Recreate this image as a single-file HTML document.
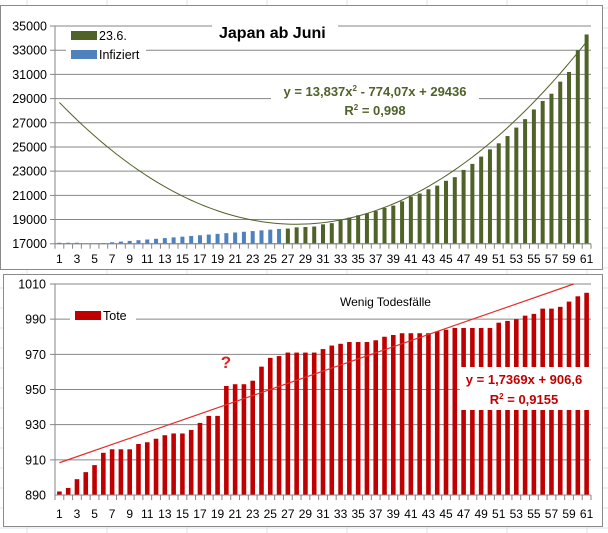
<!DOCTYPE html>
<html><head><meta charset="utf-8"><style>
html,body{margin:0;padding:0;background:#fff;}
svg{display:block;font-family:"Liberation Sans",sans-serif;}
</style></head><body>
<svg id="s" width="608" height="533" xmlns="http://www.w3.org/2000/svg"></svg>
<script>
var s=document.getElementById('s'),h='';
// spreadsheet bg grid
for(var x=0;x<608;x+=80)h+='<line x1="'+(x+27)+'" y1="0" x2="'+(x+27)+'" y2="533" stroke="#dde3ee"/>';
for(var y=8;y<533;y+=20)h+='<line x1="0" y1="'+y+'" x2="608" y2="'+y+'" stroke="#dde3ee"/>';
// frames
h+='<rect x="0.5" y="5.5" width="602" height="264" fill="#fff" stroke="#8a8a8a"/>';
h+='<rect x="3.5" y="274.5" width="599" height="252" fill="#fff" stroke="#8a8a8a"/>';
var X0=55,X1=591,cw=(X1-X0)/61;
function cx(i){return X0+cw*(i-0.5);}
// ---- TOP chart
var tY0=243.7,tY1=26,tmin=17000,tmax=35000;
function ty(v){return tY0-(v-tmin)/(tmax-tmin)*(tY0-tY1);}
for(var v=17000;v<=35000;v+=2000){var yy=ty(v);
h+='<line x1="'+(X0-5)+'" y1="'+yy+'" x2="'+X1+'" y2="'+yy+'" stroke="#868686"/>';
h+='<text x="'+(X0-8)+'" y="'+(yy+4.5)+'" font-size="12.5" text-anchor="end">'+v+'</text>';}
function tr(x){return 13.837*x*x-774.07*x+29436;}
var green={27:18250,28:18350,29:18380,30:18420,31:18600,32:18700,33:18950,34:19150,35:19350,36:19500,37:19700,38:19950,39:20150,40:20500,41:20900,42:21150,43:21500,44:21800,45:22200,46:22500,47:23100,48:23600,49:24200,50:24800,51:25300,52:25900,53:26600,54:27300,55:28100,56:28800,57:29400,58:30400,59:31200,60:33000,61:34300};
for(var i=1;i<=61;i++){var v,c;
 if(i<27){v=i<=3?17080:(i<6?17000:17000+(i-5)*58);c='#4F81BD';}else{v=green[i];c='#4F6228';}
 if(v>tmin)h+='<rect x="'+(cx(i)-2)+'" y="'+ty(v)+'" width="4" height="'+(tY0-ty(v))+'" fill="'+c+'"/>';}
var p='';for(var t=1;t<=61;t+=0.5){p+=(t==1?'M':'L')+cx(t)+' '+ty(tr(t));}
h+='<path d="'+p+'" fill="none" stroke="#4F6228" stroke-width="1"/>';
h+='<line x1="'+X0+'" y1="'+tY1+'" x2="'+X0+'" y2="'+tY0+'" stroke="#868686"/>';
h+='<line x1="'+X0+'" y1="'+tY0+'" x2="'+X1+'" y2="'+tY0+'" stroke="#868686"/>';
for(var i=0;i<=61;i++)h+='<line x1="'+(X0+cw*i)+'" y1="'+tY0+'" x2="'+(X0+cw*i)+'" y2="'+(tY0+5)+'" stroke="#868686"/>';
for(var i=1;i<=61;i+=2)h+='<text x="'+cx(i)+'" y="263" font-size="12" text-anchor="middle">'+i+'</text>';
// legend, title, eq
h+='<rect x="66" y="29" width="80" height="35" fill="#fff"/>';
h+='<rect x="71" y="31" width="26" height="9" fill="#4F6228"/><text x="99" y="40" font-size="12.5">23.6.</text>';
h+='<rect x="71" y="50" width="26" height="9" fill="#4F81BD"/><text x="99" y="59" font-size="12.5">Infiziert</text>';
h+='<rect x="212" y="20" width="126" height="26" fill="#fff"/>';
h+='<text x="219" y="38" font-size="16" font-weight="bold">Japan ab Juni</text>';
h+='<rect x="271" y="80" width="208" height="40" fill="#fff"/>';
h+='<text x="375" y="96" font-size="13" font-weight="bold" fill="#4F6228" text-anchor="middle">y = 13,837x<tspan font-size="8" dy="-5">2</tspan><tspan dy="5"> - 774,07x + 29436</tspan></text>';
h+='<text x="375" y="115" font-size="13" font-weight="bold" fill="#4F6228" text-anchor="middle">R<tspan font-size="8" dy="-5">2</tspan><tspan dy="5"> = 0,998</tspan></text>';
// ---- BOTTOM chart
var bY0=495,bY1=284,bmin=890,bmax=1010;
function by(v){return bY0-(v-bmin)/(bmax-bmin)*(bY0-bY1);}
var d=[892,894,899,903,907,914,916,916,916,919,920,922,924,925,925,927,931,935,935,952,953,953,955,963,968,969,971,971,971,971,973,975,976,977,977,977,978,980,981,982,982,982,982,983,984,985,985,985,985,985,988,989,990,992,993,996,996,997,1000,1003,1005];
for(var v=890;v<=1010;v+=20){var yy=by(v);
 if(v>890)h+='<line x1="'+(X0-5)+'" y1="'+yy+'" x2="'+X1+'" y2="'+yy+'" stroke="#868686"/>';
 h+='<text x="'+(X0-9)+'" y="'+(yy+4.5)+'" font-size="12.5" text-anchor="end">'+v+'</text>';}
for(var i=1;i<=61;i++)h+='<rect x="'+(cx(i)-2.3)+'" y="'+by(d[i-1])+'" width="4.6" height="'+(bY0-by(d[i-1]))+'" fill="#C00000"/>';
var xe=(1010-906.6)/1.7369;
h+='<line x1="'+cx(1)+'" y1="'+by(908.34)+'" x2="'+cx(xe)+'" y2="'+by(1010)+'" stroke="#E0302E" stroke-width="1.2"/>';
h+='<line x1="'+X0+'" y1="'+bY1+'" x2="'+X0+'" y2="'+bY0+'" stroke="#868686"/>';
h+='<line x1="'+X0+'" y1="'+bY0+'" x2="'+X1+'" y2="'+bY0+'" stroke="#868686"/>';
for(var i=0;i<=61;i++)h+='<line x1="'+(X0+cw*i)+'" y1="'+bY0+'" x2="'+(X0+cw*i)+'" y2="'+(bY0+5)+'" stroke="#868686"/>';
for(var i=1;i<=61;i+=2)h+='<text x="'+cx(i)+'" y="518" font-size="12" text-anchor="middle">'+i+'</text>';
h+='<rect x="70" y="309" width="66" height="14" fill="#fff"/>';
h+='<rect x="75" y="311" width="26" height="9" fill="#C00000"/><text x="103" y="320" font-size="12.5">Tote</text>';
h+='<text x="340" y="306" font-size="12">Wenig Todesfälle</text>';
h+='<text x="226" y="368" font-size="17" font-weight="bold" fill="#E02020" text-anchor="middle">?</text>';
h+='<rect x="460" y="367" width="131" height="43" fill="#fff"/>';
h+='<text x="524" y="384" font-size="13" font-weight="bold" fill="#C00000" text-anchor="middle">y = 1,7369x + 906,6</text>';
h+='<text x="524" y="404" font-size="13" font-weight="bold" fill="#C00000" text-anchor="middle">R<tspan font-size="8" dy="-5">2</tspan><tspan dy="5"> = 0,9155</tspan></text>';
s.innerHTML=h;
</script>
</body></html>
